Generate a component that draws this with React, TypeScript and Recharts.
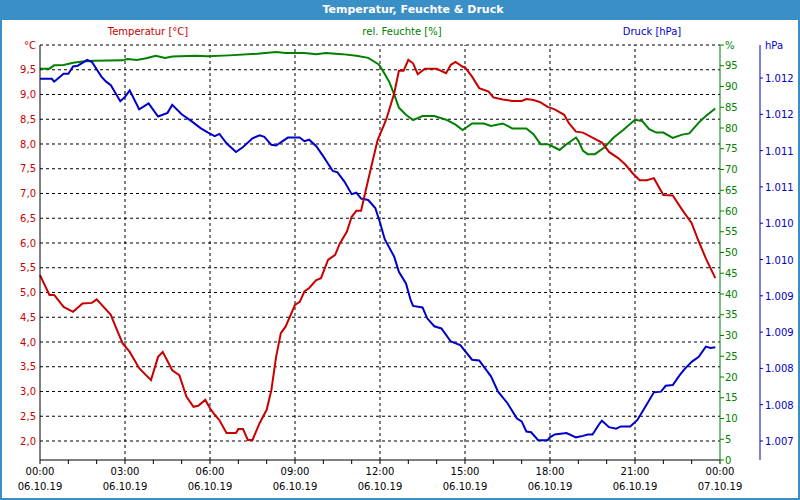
import React from 'react';
import { LineChart, Line, XAxis, YAxis, ReferenceLine } from 'recharts';

// minutes since 06.10.19 00:00
const tempMinutes = [0, 20, 30, 50, 70, 90, 110, 120, 150, 160, 175, 190, 210, 235, 250, 260, 280, 295, 310, 325, 335, 350, 360, 370, 380, 395, 415, 420, 430, 440, 450, 465, 480, 490, 500, 510, 520, 540, 550, 560, 570, 585, 595, 610, 625, 635, 650, 660, 670, 680, 690, 705, 715, 730, 735, 750, 760, 770, 780, 790, 800, 815, 840, 860, 870, 880, 895, 900, 915, 930, 950, 960, 980, 1000, 1020, 1030, 1045, 1060, 1075, 1090, 1110, 1120, 1135, 1150, 1170, 1190, 1205, 1225, 1240, 1255, 1270, 1285, 1300, 1320, 1340, 1360, 1380, 1395, 1410, 1430];
const tempValues = [5.35, 4.95, 4.95, 4.71, 4.61, 4.78, 4.79, 4.86, 4.55, 4.31, 3.97, 3.8, 3.47, 3.23, 3.7, 3.8, 3.43, 3.33, 2.9, 2.69, 2.71, 2.83, 2.66, 2.53, 2.42, 2.16, 2.16, 2.24, 2.24, 2.02, 2.02, 2.36, 2.63, 3.03, 3.7, 4.18, 4.31, 4.75, 4.81, 5.02, 5.09, 5.25, 5.29, 5.66, 5.76, 5.99, 6.23, 6.53, 6.65, 6.65, 7.07, 7.68, 8.08, 8.42, 8.55, 9.02, 9.48, 9.48, 9.7, 9.63, 9.41, 9.52, 9.52, 9.43, 9.6, 9.66, 9.56, 9.55, 9.36, 9.13, 9.06, 8.94, 8.9, 8.87, 8.87, 8.91, 8.89, 8.84, 8.75, 8.7, 8.59, 8.42, 8.25, 8.23, 8.13, 8.03, 7.84, 7.71, 7.58, 7.41, 7.27, 7.27, 7.31, 6.97, 6.96, 6.67, 6.4, 6.03, 5.69, 5.29];

const humMinutes = [0, 20, 30, 50, 70, 90, 115, 175, 185, 205, 225, 245, 265, 280, 330, 355, 400, 460, 500, 520, 560, 585, 605, 640, 670, 695, 715, 720, 730, 740, 750, 760, 775, 790, 810, 835, 860, 880, 895, 915, 940, 955, 980, 1000, 1030, 1045, 1060, 1075, 1090, 1100, 1115, 1135, 1140, 1150, 1160, 1175, 1195, 1215, 1235, 1260, 1275, 1290, 1305, 1320, 1340, 1360, 1375, 1395, 1410, 1430];
const humValues = [94.3, 94.3, 95.1, 95.2, 95.7, 96.0, 96.2, 96.3, 96.6, 96.4, 96.8, 97.4, 96.9, 97.2, 97.4, 97.3, 97.5, 97.9, 98.3, 98.1, 98.1, 97.8, 98.1, 97.8, 97.4, 96.9, 95.5, 94.9, 93.0, 91.0, 88.1, 84.9, 83.2, 81.9, 82.9, 82.9, 82.0, 80.8, 79.5, 81.1, 81.1, 80.5, 81.1, 79.9, 79.9, 78.5, 76.1, 76.1, 75.3, 74.7, 76.1, 77.7, 76.9, 74.5, 73.7, 73.7, 75.3, 77.7, 79.5, 82.0, 81.7, 79.7, 78.9, 78.9, 77.6, 78.4, 78.7, 81.3, 82.9, 84.7];

const pressMinutes = [0, 25, 30, 50, 60, 70, 80, 100, 110, 130, 140, 150, 170, 180, 190, 210, 230, 250, 270, 280, 300, 320, 340, 355, 370, 380, 395, 415, 430, 450, 465, 475, 490, 500, 525, 550, 560, 570, 585, 600, 620, 630, 645, 660, 670, 680, 695, 710, 720, 730, 750, 760, 775, 785, 790, 810, 820, 835, 850, 870, 890, 915, 930, 955, 970, 990, 1010, 1020, 1030, 1040, 1055, 1075, 1080, 1090, 1115, 1135, 1150, 1160, 1170, 1185, 1190, 1205, 1220, 1230, 1250, 1265, 1280, 1300, 1315, 1325, 1340, 1355, 1365, 1380, 1395, 1410, 1420, 1430];
const pressValues = [1011.99, 1011.99, 1011.95, 1012.06, 1012.06, 1012.16, 1012.17, 1012.25, 1012.22, 1012.02, 1011.95, 1011.9, 1011.68, 1011.74, 1011.83, 1011.57, 1011.65, 1011.47, 1011.52, 1011.63, 1011.5, 1011.41, 1011.31, 1011.25, 1011.2, 1011.23, 1011.1, 1010.98, 1011.05, 1011.17, 1011.21, 1011.19, 1011.08, 1011.07, 1011.18, 1011.18, 1011.13, 1011.15, 1011.06, 1010.92, 1010.72, 1010.7, 1010.57, 1010.4, 1010.42, 1010.34, 1010.32, 1010.21, 1010.01, 1009.78, 1009.54, 1009.33, 1009.17, 1008.94, 1008.86, 1008.84, 1008.69, 1008.58, 1008.55, 1008.37, 1008.32, 1008.12, 1008.11, 1007.89, 1007.68, 1007.52, 1007.31, 1007.27, 1007.13, 1007.12, 1007.01, 1007.01, 1007.05, 1007.09, 1007.11, 1007.05, 1007.07, 1007.09, 1007.09, 1007.24, 1007.28, 1007.19, 1007.17, 1007.2, 1007.2, 1007.29, 1007.45, 1007.67, 1007.68, 1007.76, 1007.77, 1007.91, 1007.99, 1008.09, 1008.16, 1008.3, 1008.28, 1008.29];

const hourTicks = [0, 60, 120, 180, 240, 300, 360, 420, 480, 540, 600, 660, 720, 780, 840, 900, 960, 1020, 1080, 1140, 1200, 1260, 1320, 1380, 1440];
const labelMinutes = [0, 180, 360, 540, 720, 900, 1080, 1260, 1440];
const labelTimes = ['00:00', '03:00', '06:00', '09:00', '12:00', '15:00', '18:00', '21:00', '00:00'];
const labelDates = ['06.10.19', '06.10.19', '06.10.19', '06.10.19', '06.10.19', '06.10.19', '06.10.19', '06.10.19', '07.10.19'];

const tempTicks = [2, 2.5, 3, 3.5, 4, 4.5, 5, 5.5, 6, 6.5, 7, 7.5, 8, 8.5, 9, 9.5, 10];
const humTicks = [0, 5, 10, 15, 20, 25, 30, 35, 40, 45, 50, 55, 60, 65, 70, 75, 80, 85, 90, 95, 100];
const pressTicks = [1007, 1007.5, 1008, 1008.5, 1009, 1009.5, 1010, 1010.5, 1011, 1011.5, 1012];

const TEMP_DOMAIN: [number, number] = [1.616, 10];
const PRESS_DOMAIN: [number, number] = [1006.738, 1012.455];

const tempData = tempMinutes.map((t, i) => ({ t, v: tempValues[i] }));
const humData = humMinutes.map((t, i) => ({ t, v: humValues[i] }));
const pressData = pressMinutes.map((t, i) => ({ t, v: pressValues[i] }));

const RED = '#c80000';
const GREEN = '#008000';
const BLUE = '#0000c8';
const FRAME = '#3b8fc7';
const FONT = '"DejaVu Sans", Verdana, sans-serif';

const TimeTick = (props: any) => {
  const { x, y, payload } = props;
  const idx = labelMinutes.indexOf(payload.value);
  if (idx < 0) return null;
  return (
    <g>
      <text x={x} y={y + 9} textAnchor="middle" fontSize={10} fontFamily={FONT} fill="#000">{labelTimes[idx]}</text>
      <text x={x} y={y + 24} textAnchor="middle" fontSize={10} fontFamily={FONT} fill="#000">{labelDates[idx]}</text>
    </g>
  );
};

const PressTick = (props: any) => {
  const { x, y, payload } = props;
  const v = payload.value;
  const isTop = v > 1012.1;
  const label = isTop ? 'hPa' : `1.${String(Math.round(v) - 1000).padStart(3, '0')}`;
  return (
    <g>
      {!isTop && <line x1={x} y1={y} x2={x + 3} y2={y} stroke={BLUE} />}
      <text x={x + 5} y={y} dy={4} textAnchor="start" fontSize={10} fontFamily={FONT} fill={BLUE}>{label}</text>
    </g>
  );
};

const legendStyle = (center: number, color: string): React.CSSProperties => ({
  position: 'absolute', top: 25, left: center - 100, width: 200, textAlign: 'center',
  fontSize: 10, fontFamily: FONT, color, lineHeight: '14px',
});

export default function App() {
  return (
    <div style={{ position: 'absolute', left: 0, top: 0, width: 800, height: 500, background: '#fff' }}>
      <LineChart width={800} height={500} data={tempData} margin={{ top: 45, right: 0, bottom: 0, left: 0 }}>
        <XAxis
          dataKey="t"
          type="number"
          domain={[0, 1440]}
          ticks={hourTicks}
          interval={0}
          height={40}
          stroke="#000"
          tickSize={4}
          tickMargin={2}
          tick={<TimeTick />}
        />
        <YAxis
          yAxisId="temp"
          orientation="left"
          type="number"
          domain={TEMP_DOMAIN}
          allowDataOverflow
          ticks={tempTicks}
          interval={0}
          width={40}
          stroke="#000"
          tickLine={false}
          tickSize={0}
          tickMargin={4}
          tick={{ fill: RED, fontSize: 10, fontFamily: FONT }}
          tickFormatter={(v: number) => (v === 10 ? '°C' : v.toFixed(1).replace('.', ','))}
        />
        <YAxis
          yAxisId="hum"
          orientation="right"
          type="number"
          domain={[0, 100]}
          allowDataOverflow
          ticks={humTicks}
          interval={0}
          width={40}
          stroke={GREEN}
          tickSize={4}
          tickMargin={1}
          tick={{ fill: GREEN, fontSize: 10, fontFamily: FONT }}
          tickFormatter={(v: number) => (v === 100 ? '%' : String(v))}
        />
        <YAxis
          yAxisId="press"
          orientation="right"
          type="number"
          domain={PRESS_DOMAIN}
          allowDataOverflow
          ticks={[...pressTicks, PRESS_DOMAIN[1]]}
          interval={0}
          width={40}
          stroke={BLUE}
          tickLine={false}
          tickSize={0}
          tickMargin={0}
          tick={<PressTick />}
        />
        {tempTicks.map((v) => (
          <ReferenceLine key={`h${v}`} yAxisId="temp" y={v} stroke="#000" strokeDasharray="3 3" />
        ))}
        {labelMinutes.slice(1, -1).map((m) => (
          <ReferenceLine key={`v${m}`} yAxisId="temp" x={m} stroke="#000" strokeDasharray="3 3" />
        ))}
        <Line yAxisId="hum" data={humData} dataKey="v" type="linear" stroke={GREEN} strokeWidth={2} dot={false} isAnimationActive={false} />
        <Line yAxisId="press" data={pressData} dataKey="v" type="linear" stroke={BLUE} strokeWidth={2} dot={false} isAnimationActive={false} />
        <Line yAxisId="temp" data={tempData} dataKey="v" type="linear" stroke={RED} strokeWidth={2} dot={false} isAnimationActive={false} />
      </LineChart>

      <div style={{
        position: 'absolute', left: 0, top: 0, width: 800, height: 20, background: FRAME,
        color: '#fff', fontWeight: 'bold', fontSize: 11, fontFamily: FONT, lineHeight: '20px',
        textAlign: 'center', paddingLeft: 26, boxSizing: 'border-box',
      }}>
        Temperatur, Feuchte &amp; Druck
      </div>
      <div style={legendStyle(148, RED)}>Temperatur [°C]</div>
      <div style={legendStyle(402, GREEN)}>rel. Feuchte [%]</div>
      <div style={legendStyle(652, BLUE)}>Druck [hPa]</div>
      <div style={{
        position: 'absolute', left: 0, top: 0, width: 800, height: 500, boxSizing: 'border-box',
        borderLeft: `2px solid ${FRAME}`, borderRight: `2px solid ${FRAME}`, borderBottom: `2px solid ${FRAME}`,
        pointerEvents: 'none',
      }} />
    </div>
  );
}
